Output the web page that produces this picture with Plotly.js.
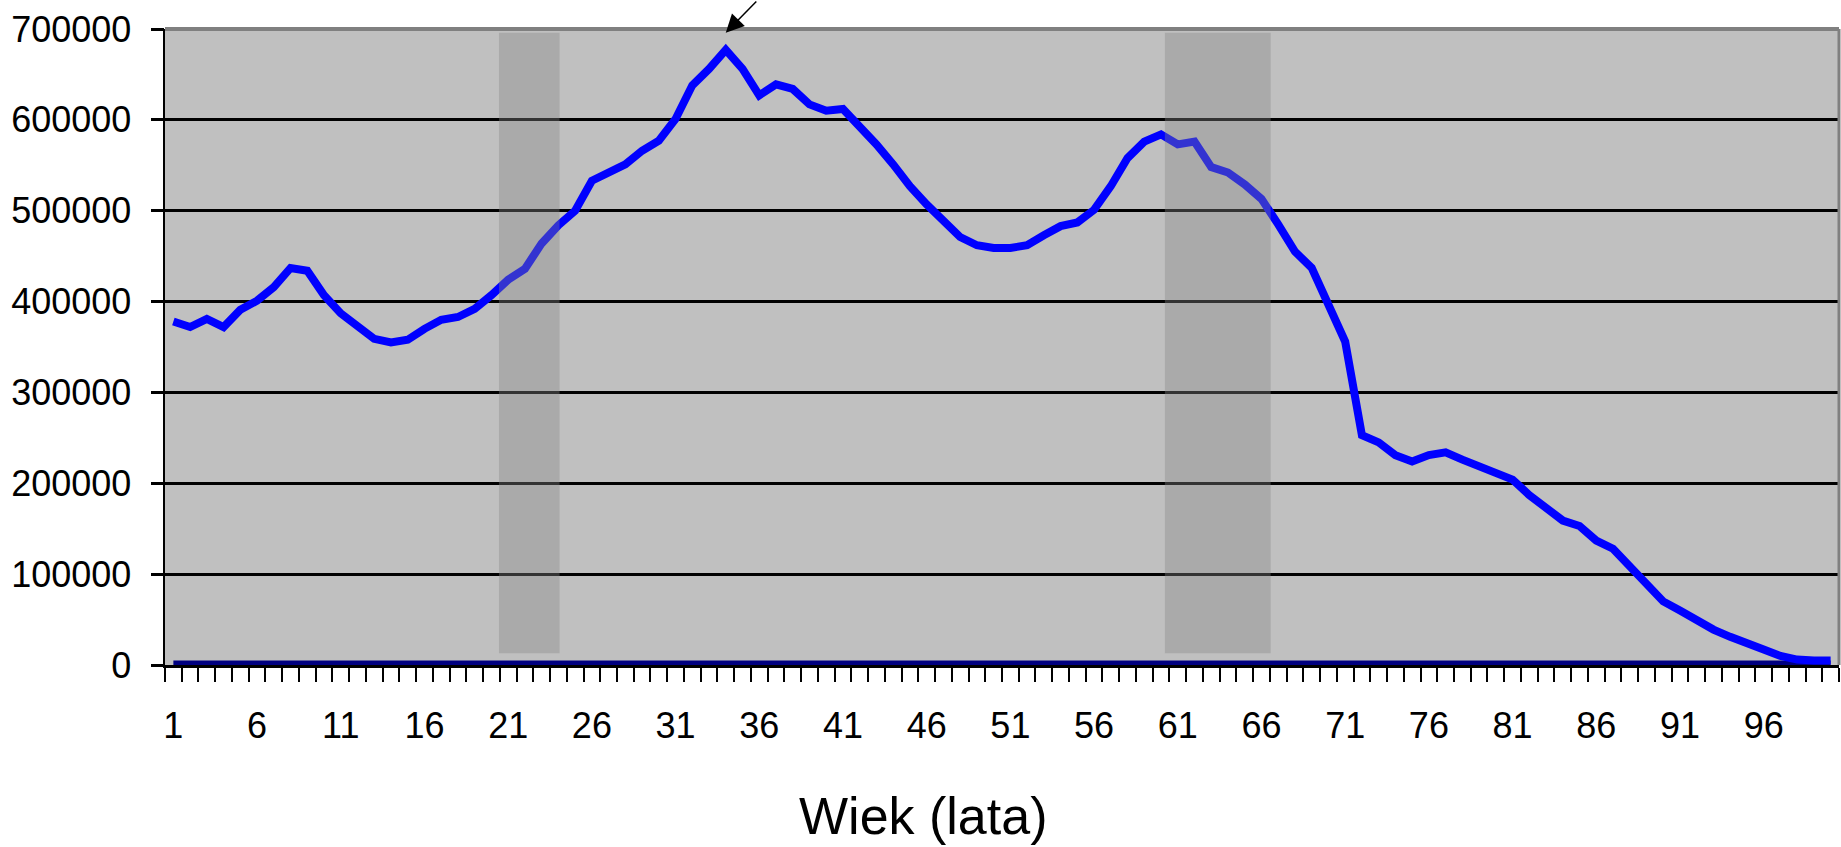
<!DOCTYPE html>
<html>
<head>
<meta charset="utf-8">
<script src="https://cdn.plot.ly/plotly-3.0.1.min.js"></script>
<style>
html,body{margin:0;padding:0;background:#fff;}
#chart{width:1841px;height:847px;}
</style>
</head>
<body>
<div id="chart"></div>
<script>
// Age categories (years)
const ages = [1,2,3,4,5,6,7,8,9,10,11,12,13,14,15,16,17,18,19,20,
  21,22,23,24,25,26,27,28,29,30,31,32,33,34,35,36,37,38,39,40,
  41,42,43,44,45,46,47,48,49,50,51,52,53,54,55,56,57,58,59,60,
  61,62,63,64,65,66,67,68,69,70,71,72,73,74,75,76,77,78,79,80,
  81,82,83,84,85,86,87,88,89,90,91,92,93,94,95,96,97,98,99,100];

// Population per age
const population = [
  378000,372000,381000,372000,391000,401000,416000,437000,434000,407000,
  387000,373000,359000,355000,358000,370000,380000,383000,392000,407000,
  424000,436000,464000,484000,500000,533000,541000,551000,566000,577000,
  601000,638000,656000,677000,656000,627000,639000,634000,617000,610000,
  612000,593000,573000,551000,527000,507000,489000,471000,462000,459000,
  459000,462000,473000,483000,487000,501000,527000,558000,576000,584000,
  573000,576000,548000,542000,529000,513000,485000,455000,437000,396000,
  356000,253000,245000,231000,224000,231000,234000,226000,219000,213000,
  204000,187000,174000,159000,153000,137000,128000,108000,90000,70000,
  60000,49000,39000,31000,23000,17000,10000,6000,5000,5000];

// Second series (flat at zero)
const baseline = [
  0,0,0,0,0,0,0,0,0,0, 0,0,0,0,0,0,0,0,0,0,
  0,0,0,0,0,0,0,0,0,0, 0,0,0,0,0,0,0,0,0,0,
  0,0,0,0,0,0,0,0,0,0, 0,0,0,0,0,0,0,0,0,0,
  0,0,0,0,0,0,0,0,0,0, 0,0,0,0,0,0,0,0,0,0,
  0,0,0,0,0,0,0,0,0,0, 0,0,0,0,0,0,0,0,0,0];

const xTickVals = [1,6,11,16,21,26,31,36,41,46,51,56,61,66,71,76,81,86,91,96];
const xTickText = ['1','6','11','16','21','26','31','36','41','46','51','56','61','66','71','76','81','86','91','96'];
const yTickVals = [0,100000,200000,300000,400000,500000,600000,700000];
const yTickText = ['0','100000','200000','300000','400000','500000','600000','700000'];
const xTitle = 'Wiek (lata)';

// Use a narrow face when it is installed, otherwise regular Liberation Sans
function narrowAvailable(){
  const c = document.createElement('canvas').getContext('2d');
  c.font = '42px "Liberation Sans Narrow", monospace';
  const a = c.measureText('700000').width;
  c.font = '42px monospace';
  const b = c.measureText('700000').width;
  return Math.abs(a-b) > 1 && a < 130;
}
const narrow = narrowAvailable();
const tickFont = narrow
  ? {family:'"Liberation Sans Narrow", "Arial Narrow", "Liberation Sans", sans-serif', size:42, color:'#000'}
  : {family:'"Liberation Sans", Arial, sans-serif', size:36, color:'#000'};

const traces = [
  {x: ages, y: baseline, type:'scatter', mode:'lines',
   line:{color:'#000080', width:9}, hoverinfo:'skip', showlegend:false},
  {x: ages, y: population, type:'scatter', mode:'lines',
   line:{color:'#0000ff', width:8}, showlegend:false},
  // invisible trace carrying the tick-mark-only axis
  {x: [ages[0]], y: [baseline[0]], yaxis:'y2', type:'scatter', mode:'markers',
   marker:{opacity:0}, hoverinfo:'skip', showlegend:false}
];

const layout = {
  width:1841, height:847,
  margin:{l:165, r:2, t:29, b:182, pad:0},
  paper_bgcolor:'#ffffff',
  plot_bgcolor:'#c0c0c0',
  showlegend:false,
  xaxis:{
    type:'linear', range:[0.5,100.5], fixedrange:true,
    tickmode:'array', tickvals:xTickVals, ticktext:xTickText,
    ticks:'outside', ticklen:27, tickcolor:'rgba(0,0,0,0)', tickwidth:1,
    tickfont:tickFont,
    showgrid:false, zeroline:false,
    showline:true, linecolor:'#000', linewidth:3,
    minor:{tickmode:'linear', tick0:0.5, dtick:1, ticks:'outside', ticklen:14, tickwidth:2, tickcolor:'#000', showgrid:false}
  },
  yaxis:{
    range:[0,700000], fixedrange:true,
    tickmode:'array', tickvals:yTickVals, ticktext:yTickText,
    ticks:'outside', ticklen:24, tickwidth:1, tickcolor:'rgba(0,0,0,0)',
    tickfont:tickFont,
    showgrid:true, gridcolor:'#000', gridwidth:3.2,
    zeroline:false,
    showline:true, linecolor:'#000', linewidth:2.5
  },
  yaxis2:{
    range:[0,700000], fixedrange:true, overlaying:'y', side:'left',
    tickmode:'array', tickvals:yTickVals,
    ticks:'outside', ticklen:13, tickwidth:3, tickcolor:'#000',
    showticklabels:false, showgrid:false, zeroline:false, showline:false
  },
  shapes:[
    {type:'rect', xref:'x', yref:'y', x0:20.45, x1:24.07, y0:13000, y1:696000,
     fillcolor:'rgba(134,134,134,0.38)', line:{width:0}, layer:'above'},
    {type:'rect', xref:'x', yref:'y', x0:60.23, x1:66.55, y0:13000, y1:696000,
     fillcolor:'rgba(134,134,134,0.38)', line:{width:0}, layer:'above'},
    {type:'line', xref:'paper', yref:'paper', x0:0, x1:1, y0:1, y1:1,
     line:{color:'#808080', width:4}, layer:'above'},
    {type:'line', xref:'paper', yref:'paper', x0:1, x1:1, y0:0, y1:1,
     line:{color:'#808080', width:3}, layer:'above'}
  ],
  annotations:[
    {xref:'paper', yref:'paper', x:0.4527, y:-0.2375, xanchor:'center', yanchor:'middle',
     text:xTitle, showarrow:false,
     font:{family:'"Liberation Sans", Arial, sans-serif', size:52, color:'#000'}},
    {xref:'x', yref:'y', x:34, y:696000, text:'', showarrow:true,
     ax:32, ay:-46, arrowhead:2, arrowsize:2.4, arrowwidth:1.5, arrowcolor:'#000'}
  ]
};

Plotly.newPlot('chart', traces, layout, {displayModeBar:false, staticPlot:true});
</script>
</body>
</html>
